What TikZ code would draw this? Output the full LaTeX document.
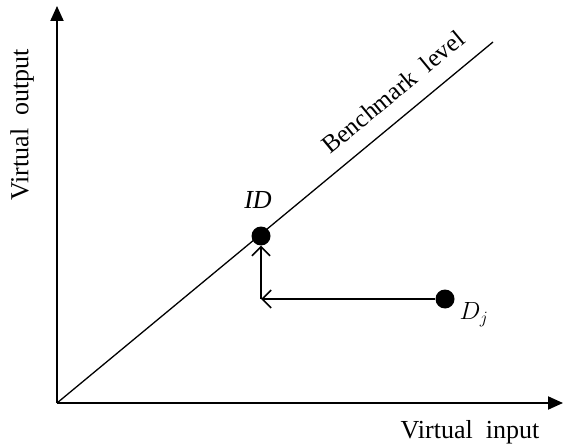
\documentclass[tikz,border=0pt]{standalone}
\usepackage{fontspec}
\setmainfont{Liberation Serif}
\usetikzlibrary{arrows.meta}
\begin{document}
\begin{tikzpicture}[x=1pt,y=-1pt,
  axis/.style={line width=2pt,-{Triangle[length=15pt,width=13pt]}},
  move/.style={line width=1.8pt,-{Straight Barb[length=9pt,width=18pt,line width=1.6pt]}},
  dot/.style={circle,fill=black,minimum size=19pt,inner sep=0pt},
  lbl/.style={font=\fontsize{26}{30}\selectfont}]
\useasboundingbox (0,0) rectangle (564,446);
\coordinate (O) at (57,403);
\coordinate (Ytop) at (57,6);
\coordinate (Xend) at (563,403);
\coordinate (Bend) at (493,42);
\coordinate (corner) at (261,299);
\draw[axis] (O) -- (Ytop);
\draw[axis] (O) -- (Xend);
\draw[line width=1.3pt] (O) -- (Bend);
\node[dot] (ID) at (261,236) {};
\node[dot] (Dj) at (445,299) {};
\draw[move] (Dj) -- (corner);
\draw[move] (corner) -- (ID);
\node[lbl] (lID) at (258,200) {\itshape ID};
\node[lbl] (lDj) at (474,315) {$D_j$};
\node[lbl,rotate=39.5,font=\fontsize{25}{30}\selectfont] (lB) at (393,92) {Benchmark\ \ level};
\node[lbl,rotate=90] (lY) at (22,125) {Virtual\ \ output};
\node[lbl] (lX) at (470,432) {Virtual\ \ input};
\end{tikzpicture}
\end{document}
